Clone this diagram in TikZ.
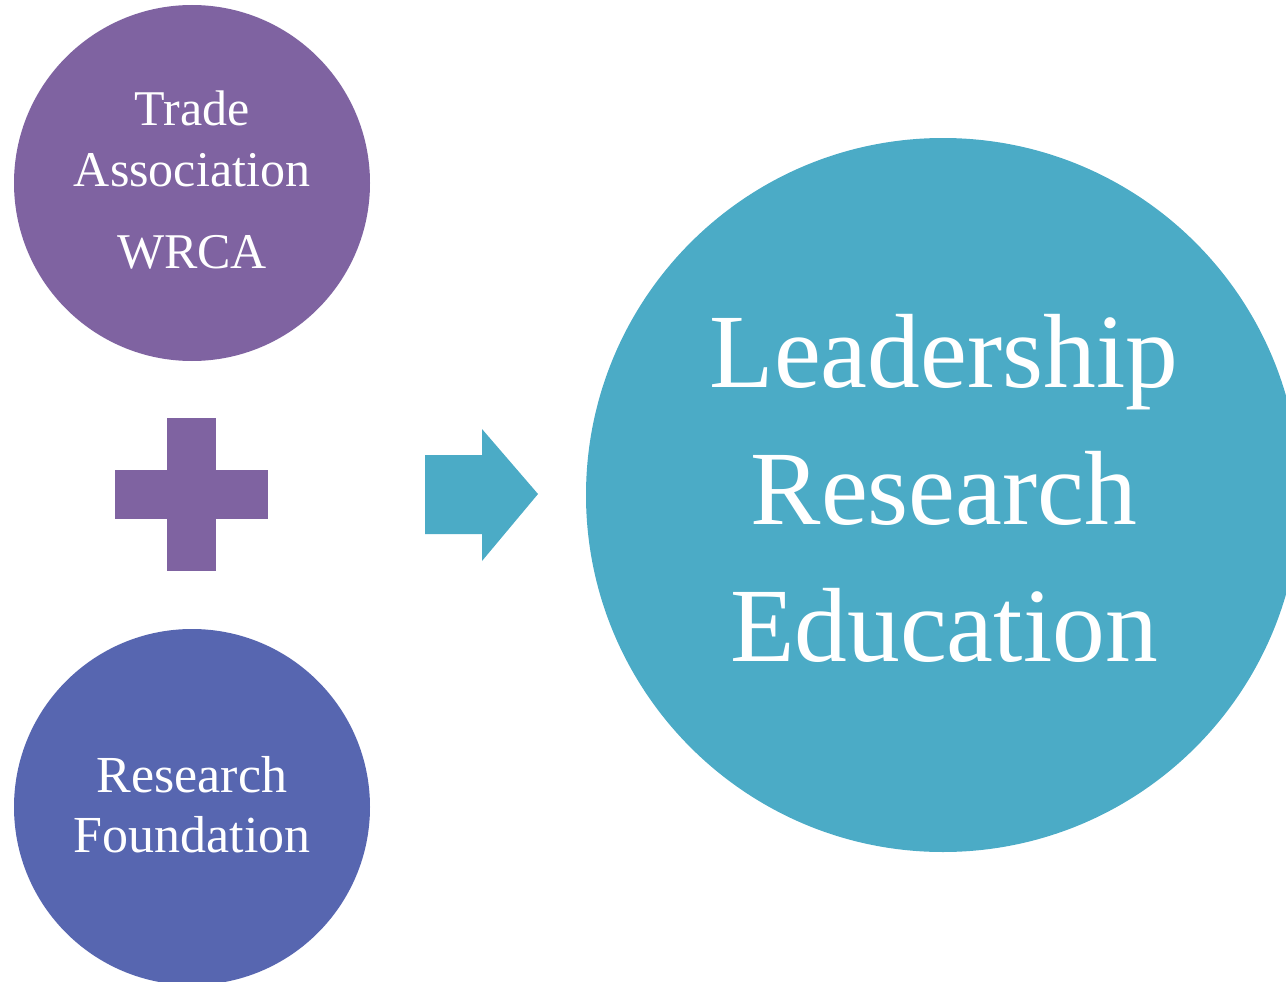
\documentclass[tikz,border=0pt]{standalone}
\usepackage{fontspec}
\setmainfont{Liberation Serif}
\definecolor{tradepurple}{HTML}{7F63A1}
\definecolor{foundblue}{HTML}{5766B0}
\definecolor{teal}{HTML}{4BABC6}
\begin{document}
\begin{tikzpicture}[x=1pt,y=-1pt,
  disc/.style={circle,inner sep=0pt},
  small/.style={text=white,anchor=base,font=\fontsize{50}{60}\selectfont},
  smallb/.style={text=white,anchor=base,font=\fontsize{52}{60}\selectfont},
  big/.style={text=white,anchor=base,font=\fontsize{105.5}{137}\selectfont}]
\useasboundingbox (0,0) rectangle (1286,982);
\begin{scope}
\clip (0,0) rectangle (1286,982);
\fill[tradepurple] (192,183) circle (178);
\fill[foundblue] (192,807) circle (178);
\fill[teal] (943,495) circle (357);
\end{scope}
% plus
\fill[tradepurple] (167,418) rectangle (216,571);
\fill[tradepurple] (115,470) rectangle (268,519);
% arrow
\fill[teal] (425,455) -- (482,455) -- (482,429) -- (538,494) -- (482,561) -- (482,534) -- (425,534) -- cycle;
% texts
\node[small] (t1) at (192,125) {Trade};
\node[small] (t2) at (192,186) {Association};
\node[small] (t3) at (192,268) {WRCA};
\node[smallb] (f1) at (192,792) {Research};
\node[smallb] (f2) at (192,852) {Foundation};
\node[big] (b1) at (944,387) {Leadership};
\node[big] (b2) at (944,524) {Research};
\node[big] (b3) at (944,661) {Education};
\end{tikzpicture}
\end{document}
